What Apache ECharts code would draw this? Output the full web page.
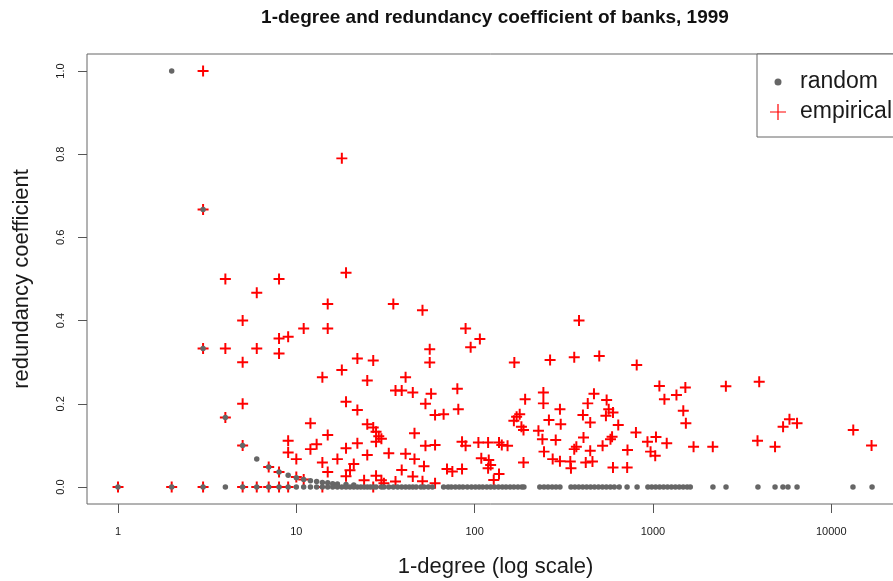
<!DOCTYPE html>
<html>
<head>
<meta charset="utf-8">
<script src="https://cdn.jsdelivr.net/npm/echarts@6/dist/echarts.min.js"></script>
<style>
  html, body { margin: 0; padding: 0; background: #ffffff; }
  #chart { width: 893px; height: 581px; }
</style>
</head>
<body>
<div id="chart"></div>
<script>
// Axis tick values
const degreeTicks = [1, 10, 100, 1000, 10000];
const coefTicks = [0, 0.2, 0.4, 0.6, 0.8, 1.0];

// Empirical network: 1-degree of each bank and its redundancy coefficient
const empiricalDegree = [
  1, 2, 3, 3, 3, 3, 4, 4, 4, 5, 5, 5, 5, 5, 6, 6, 6, 7, 7,
  8, 8, 8, 8, 8, 9, 9, 9, 9, 10, 10, 11, 11, 12, 12, 13,
  14, 14, 14, 15, 15, 15, 15, 17, 18, 18, 19, 19, 19, 19, 20, 21,
  22, 22, 22, 24, 25, 25, 25, 27, 27, 27, 28, 28, 28, 29, 30, 30, 31,
  33, 35, 36, 36, 39, 39, 41, 41, 45, 45, 46, 46, 51, 51, 52, 53, 53,
  56, 56, 57, 60, 60, 60, 67, 70, 75, 80, 81, 85, 85, 89, 89, 95,
  105, 107, 109, 119, 119, 120, 123, 128, 137, 137, 142, 153,
  166, 167, 172, 179, 183, 188, 188, 192,
  228, 240, 243, 243, 245, 261, 265, 274, 285, 301, 301, 304,
  344, 347, 362, 362, 372, 385, 405, 408, 420, 431,
  445, 445, 458, 467, 500, 522, 545, 550, 565, 578, 590, 597, 597,
  639, 717, 720, 803, 811, 932, 970, 1030, 1040, 1087, 1160, 1195,
  1355, 1480, 1520, 1530, 1690, 2166, 2565,
  3860, 3945, 4840, 5370, 5830, 6430, 13290, 16830
];
const empiricalCoef = [
  0, 0, 0, 0.333, 0.667, 1.0, 0.5, 0.333, 0.167, 0.4, 0.3, 0.2, 0.1, 0, 0.467, 0.333, 0, 0.048, 0,
  0.5, 0.357, 0.321, 0.036, 0, 0.361, 0.111, 0.083, 0, 0.067, 0.024, 0.381, 0.018, 0.153, 0.091, 0.103,
  0.264, 0.059, 0, 0.44, 0.381, 0.125, 0.036, 0.067, 0.79, 0.281, 0.515, 0.205, 0.093, 0.026, 0.04, 0.055,
  0.309, 0.185, 0.105, 0.016, 0.256, 0.151, 0.077, 0.304, 0.143, 0, 0.133, 0.109, 0.027, 0.122, 0.116, 0.016, 0.009,
  0.081, 0.44, 0.232, 0.013, 0.232, 0.041, 0.264, 0.08, 0.227, 0.025, 0.129, 0.067, 0.425, 0.014, 0.05, 0.2, 0.099,
  0.331, 0.299, 0.224, 0.173, 0.101, 0.009, 0.175, 0.043, 0.037, 0.236, 0.187, 0.109, 0.043, 0.381, 0.099, 0.336,
  0.107, 0.356, 0.069, 0.107, 0.045, 0.065, 0.053, 0.017, 0.107, 0.031, 0.101, 0.099,
  0.159, 0.299, 0.169, 0.175, 0.145, 0.137, 0.059, 0.211,
  0.135, 0.115, 0.227, 0.201, 0.085, 0.161, 0.305, 0.067, 0.113, 0.187, 0.062, 0.151,
  0.061, 0.045, 0.312, 0.091, 0.097, 0.4, 0.173, 0.119, 0.059, 0.201,
  0.155, 0.087, 0.061, 0.224, 0.315, 0.099, 0.171, 0.209, 0.187, 0.115, 0.121, 0.179, 0.047,
  0.149, 0.047, 0.089, 0.131, 0.293, 0.109, 0.085, 0.075, 0.12, 0.243, 0.211, 0.105,
  0.221, 0.183, 0.239, 0.153, 0.097, 0.097, 0.242,
  0.111, 0.253, 0.097, 0.145, 0.163, 0.153, 0.137, 0.1
];

// Random network with the same degrees: mostly zero redundancy
const randomDegree = [
  2, 3, 3, 4, 5, 6, 7, 8, 9, 10, 11, 12, 13, 14, 15, 16, 17, 19, 21,
  1, 2, 3, 4, 5, 6, 7, 8, 9, 10, 11, 12, 13, 14, 15, 16, 17, 18, 19, 20,
  21, 22, 23, 24, 25, 26, 27, 28, 30, 31, 33, 35, 37, 39, 41, 43, 45, 47,
  50, 52, 55, 58, 67, 71, 74, 78, 82, 86, 91, 96, 101, 106, 111, 117,
  123, 129, 136, 143, 150, 158, 166, 175, 184, 189,
  232, 245, 258, 272, 286, 301,
  347, 365, 384, 404, 425, 447, 470, 495, 521, 548, 577, 607, 647,
  716, 815,
  937, 985, 1036, 1090, 1147, 1207, 1270, 1336, 1405, 1478, 1555, 1620,
  2170, 2570, 3880, 4840, 5360, 5720, 6430, 13240, 16940
];
const randomCoef = [
  1.0, 0.667, 0.333, 0.167, 0.1, 0.067, 0.048, 0.036, 0.028, 0.022, 0.018, 0.015, 0.013, 0.011, 0.01, 0.008, 0.007, 0.006, 0.005,
  0, 0, 0, 0, 0, 0, 0, 0, 0, 0, 0, 0, 0, 0, 0, 0, 0, 0, 0, 0,
  0, 0, 0, 0, 0, 0, 0, 0, 0, 0, 0, 0, 0, 0, 0, 0, 0, 0,
  0, 0, 0, 0, 0, 0, 0, 0, 0, 0, 0, 0, 0, 0, 0, 0,
  0, 0, 0, 0, 0, 0, 0, 0, 0, 0,
  0, 0, 0, 0, 0, 0,
  0, 0, 0, 0, 0, 0, 0, 0, 0, 0, 0, 0, 0,
  0, 0,
  0, 0, 0, 0, 0, 0, 0, 0, 0, 0, 0, 0,
  0, 0, 0, 0, 0, 0, 0, 0, 0
];

const FONT = 'Liberation Sans, Arial, Helvetica, sans-serif';
const TEXT = '#1a1a1a';
const FRAME = '#666666';

// Filled "+" glyph for the empirical points
const plusSymbol = 'path://M4.1,0H5.9V4.1H10V5.9H5.9V10H4.1V5.9H0V4.1H4.1Z';
// Legend icons share one 25x16 box so the labels line up
const legendDot = 'path://M0,0M25,16M4.5,8A3.5,3.5,0,1,1,11.5,8A3.5,3.5,0,1,1,4.5,8Z';
const legendPlus = 'path://M0,0M25,16M7.4,0H8.6V7.4H16V8.6H8.6V16H7.4V8.6H0V7.4H7.4Z';

const pairs = (xs, ys) => xs.map((x, i) => [x, ys[i]]);

const chart = echarts.init(document.getElementById('chart'), null, { renderer: 'canvas' });

chart.setOption({
  animation: false,
  backgroundColor: '#ffffff',
  title: {
    text: '1-degree and redundancy coefficient of banks, 1999',
    left: 495,
    top: 8,
    textAlign: 'center',
    padding: 0,
    textStyle: { fontFamily: FONT, fontSize: 19, fontWeight: 'bold', color: '#111111' }
  },
  legend: {
    data: [
      { name: 'random', icon: legendDot },
      { name: 'empirical', icon: legendPlus }
    ],
    orient: 'vertical',
    left: 757,
    top: 54,
    padding: [16, 90, 13, 13],
    itemWidth: 25,
    itemHeight: 16,
    itemGap: 6,
    selectedMode: false,
    borderColor: FRAME,
    borderWidth: 1,
    borderRadius: 0,
    backgroundColor: '#ffffff',
    textStyle: { fontFamily: FONT, fontSize: 23, lineHeight: 24, color: TEXT }
  },
  grid: {
    left: 87,
    top: 54,
    width: 817,
    height: 450,
    show: true,
    borderColor: FRAME,
    borderWidth: 1,
    backgroundColor: 'transparent',
    containLabel: false,
    outerBoundsMode: 'none'
  },
  xAxis: {
    type: 'log',
    logBase: 10,
    min: 0.67,
    max: 25590,
    axisLine: { show: false, onZero: false },
    splitLine: { show: false },
    axisTick: { show: true, inside: false, length: 9, customValues: degreeTicks, lineStyle: { color: '#555555' } },
    axisLabel: {
      customValues: degreeTicks,
      margin: 22,
      fontFamily: FONT,
      fontSize: 11,
      color: TEXT,
      formatter: v => String(v)
    },
    name: '1-degree (log scale)',
    nameLocation: 'middle',
    nameGap: 52,
    nameMoveOverlap: false,
    nameTextStyle: { fontFamily: FONT, fontSize: 22, color: TEXT }
  },
  yAxis: {
    type: 'value',
    min: -0.0409,
    max: 1.0409,
    axisLine: { show: false, onZero: false },
    splitLine: { show: false },
    axisTick: { show: true, inside: false, length: 9, customValues: coefTicks, lineStyle: { color: '#555555' } },
    axisLabel: {
      customValues: coefTicks,
      rotate: 90,
      margin: 21,
      fontFamily: FONT,
      fontSize: 11,
      color: TEXT,
      formatter: v => Number(v).toFixed(1)
    },
    name: 'redundancy coefficient',
    nameLocation: 'middle',
    nameGap: 54,
    nameMoveOverlap: false,
    nameTextStyle: { fontFamily: FONT, fontSize: 22, color: TEXT }
  },
  series: [
    {
      type: 'scatter',
      name: 'empirical',
      data: pairs(empiricalDegree, empiricalCoef),
      symbol: plusSymbol,
      symbolSize: 11,
      itemStyle: { color: '#ff0000', opacity: 1 },
      emphasis: { disabled: true },
      z: 2
    },
    {
      type: 'scatter',
      name: 'random',
      data: pairs(randomDegree, randomCoef),
      symbol: 'circle',
      symbolSize: 5.5,
      itemStyle: { color: '#666666', opacity: 1 },
      emphasis: { disabled: true },
      z: 3
    }
  ]
});
</script>
</body>
</html>
